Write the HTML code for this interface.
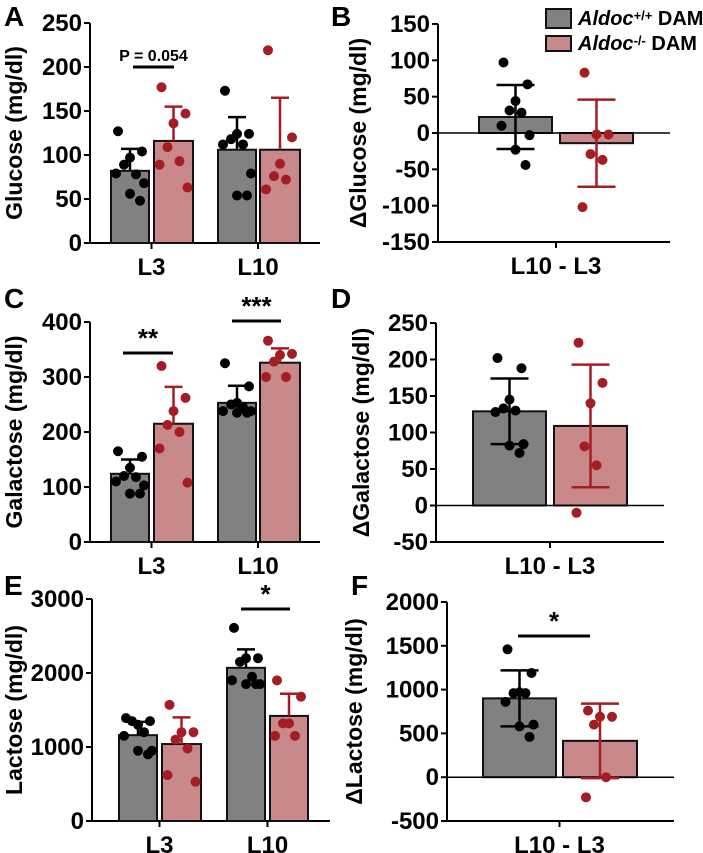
<!DOCTYPE html>
<html><head><meta charset="utf-8"><style>
body{margin:0;background:#fff}
svg{display:block;font-family:"Liberation Sans",Arial,sans-serif;font-weight:bold}
</style></head><body>
<svg id="fig" width="703" height="853" viewBox="0 0 703 853"></svg>
<script>
// ---- data ----
const groupCats = ["L3","L10"];
const diffCat = ["L10 - L3"];
// Panel A glucose
const aWtMean=[82,106], aWtSD=[25,37], aKoMean=[116,106], aKoSD=[39,59];
const aWtPts=[[127,104,97,89,78,79,68,56,48],[173,124,124,118,112,112,79,54,54]];
const aKoPts=[[177,147,136,109,93,89,63],[219,120,90,76,72,61]];
const aTicks=[0,50,100,150,200,250];
// Panel B delta glucose
const bMean=[22,-14], bSD=[44,60];
const bPts=[[97,67,44,31,28,10,-3,-23,-44],[83,-2,-2,-29,-37,-102]];
const bTicks=[-150,-100,-50,0,50,100,150];
// Panel C galactose
const cWtMean=[124,253], cWtSD=[26,31], cKoMean=[215,326], cKoSD=[67,26];
const cWtPts=[[165,155,135,120,118,110,103,88,88],[325,283,253,250,245,238,238,235,235]];
const cKoPts=[[320,262,238,213,200,170,108],[366,342,340,328,300,300]];
const cTicks=[0,100,200,300,400];
// Panel D delta galactose
const dMean=[129,109], dSD=[45,84];
const dPts=[[202,188,145,133,130,128,84,82,72],[223,168,140,81,55,-10]];
const dTicks=[-50,0,50,100,150,200,250];
// Panel E lactose
const eWtMean=[1160,2070], eWtSD=[180,250], eKoMean=[1040,1420], eKoSD=[360,300];
const eWtPts=[[1390,1350,1300,1350,1200,1150,950,950,900],[2610,2200,2200,2150,1950,1900,1850,1850,1850]];
const eKoPts=[[1570,1200,1200,1100,980,620,530],[1900,1680,1320,1320,1150,1150]];
const eTicks=[0,1000,2000,3000];
// Panel F delta lactose
const fMean=[900,415], fSD=[320,425];
const fPts=[[1460,1190,970,960,960,860,600,580,460],[760,690,690,600,0,-230]];
const fTicks=[-500,0,500,1000,1500,2000];

const NS="http://www.w3.org/2000/svg";
const svg=document.getElementById('fig');
const GRAY="#818181", PINK="#c98889", RED="#a51d24";
function mk(tag,attrs,parent,text){const e=document.createElementNS(NS,tag);for(const k in attrs)e.setAttribute(k,attrs[k]);if(text!==undefined)e.textContent=text;(parent||svg).appendChild(e);return e;}
function scale(d0,d1,p0,p1){return v=>p0+(v-d0)*(p1-p0)/(d1-d0);}
function dots(g,pts,cx,y,color,name){
  pts.forEach((v,i)=>{
    const pat=[-12,12,0,-6,6,-14,14,0,10];
    const c=mk('circle',{cx:cx+pat[i%pat.length],cy:y(v),r:5,fill:color},g);
    
    
  });
}
function yaxis(g,ax,y,ticks,top,bot,title,tx,letter,lx,ly){
  mk('line',{x1:ax,y1:top,x2:ax,y2:bot,stroke:'#000','stroke-width':2},g);
  ticks.forEach(t=>{
    mk('line',{x1:ax-6,y1:y(t),x2:ax,y2:y(t),stroke:'#000','stroke-width':2},g);
    const tl=mk('text',{x:ax-8,y:y(t)+8,'text-anchor':'end','font-size':24},g,String(t));
    
    
  });
  const yt=mk('text',{x:tx,y:(top+bot)/2,'text-anchor':'middle','font-size':23,transform:`rotate(-90 ${tx} ${(top+bot)/2})`},g,title);
  
  
  const pl=mk('text',{x:lx,y:ly,'font-size':28},g,letter);
  
  
}
function bar(g,x0,x1,y,mean,fill,name){
  const a=y(0),b=y(mean);
  const r=mk('rect',{x:x0,y:Math.min(a,b),width:x1-x0,height:Math.abs(a-b),fill:fill,stroke:'#111','stroke-width':2},g);
  
  
}
function err(g,cx,y,mean,sd,color,both,cw){
  const lo=both?mean-sd:mean;
  mk('line',{x1:cx,y1:y(lo),x2:cx,y2:y(mean+sd),stroke:color,'stroke-width':2.5},g);
  mk('line',{x1:cx-cw,y1:y(mean+sd),x2:cx+cw,y2:y(mean+sd),stroke:color,'stroke-width':2.5},g);
  if(both)mk('line',{x1:cx-cw,y1:y(mean-sd),x2:cx+cw,y2:y(mean-sd),stroke:color,'stroke-width':2.5},g);
}
function sig(g,x0,x1,yy,label,fs){
  mk('line',{x1:x0,y1:yy,x2:x1,y2:yy,stroke:'#000','stroke-width':3},g);
  const s=mk('text',{x:(x0+x1)/2,y:yy-6,'text-anchor':'middle','font-size':fs},g,label);
  
  
}
function groupPanel(name,cfg,wm,ws,km,ks,wp,kp,ticks){
  const g=mk('g',{});
  
  
  const y=scale(ticks[0],ticks[ticks.length-1],cfg.bot,cfg.top);
  yaxis(g,cfg.ax,y,ticks,cfg.top,cfg.bot,cfg.title,22,cfg.letter,4,cfg.ly);
  mk('line',{x1:cfg.ax,y1:cfg.bot,x2:cfg.axEnd,y2:cfg.bot,stroke:'#000','stroke-width':2},g);
  groupCats.forEach((c,i)=>{
    const [w0,w1,k0,k1]=cfg.bars[i];
    bar(g,w0,w1,y,wm[i],GRAY,'bar-wt-'+c);
    bar(g,k0,k1,y,km[i],PINK,'bar-ko-'+c);
    const wc=(w0+w1)/2,kc=(k0+k1)/2;
    err(g,wc,y,wm[i],ws[i],'#000',false,9);
    err(g,kc,y,km[i],ks[i],RED,false,9);
    dots(g,wp[i],wc,y,'#000','point-wt');
    dots(g,kp[i],kc,y,RED,'point-ko');
    const tk=(w1+k0)/2;
    mk('line',{x1:tk,y1:cfg.bot,x2:tk,y2:cfg.bot+6,stroke:'#000','stroke-width':2},g);
    const l=mk('text',{x:tk,y:cfg.bot+32,'text-anchor':'middle','font-size':24},g,c);
    
    
  });
  return {g,y};
}
function diffPanel(name,cfg,mean,sd,pts,ticks){
  const g=mk('g',{});
  
  
  const y=scale(ticks[0],ticks[ticks.length-1],cfg.bot,cfg.top);
  yaxis(g,cfg.ax,y,ticks,cfg.top,cfg.bot,cfg.title,cfg.tx,cfg.letter,cfg.lx,cfg.ly);
  mk('line',{x1:cfg.ax,y1:cfg.bot,x2:cfg.axEnd,y2:cfg.bot,stroke:'#000','stroke-width':2},g);
  const [w0,w1,k0,k1]=cfg.bars;
  bar(g,w0,w1,y,mean[0],GRAY,'bar-wt');
  bar(g,k0,k1,y,mean[1],PINK,'bar-ko');
  mk('line',{x1:cfg.ax,y1:y(0),x2:cfg.axEnd,y2:y(0),stroke:'#000','stroke-width':1.5},g);
  const wc=(w0+w1)/2,kc=(k0+k1)/2;
  err(g,wc,y,mean[0],sd[0],'#000',true,19);
  err(g,kc,y,mean[1],sd[1],RED,true,19);
  dots(g,pts[0],wc,y,'#000','point-wt');
  dots(g,pts[1],kc,y,RED,'point-ko');
  const tk=(w1+k0)/2;
  mk('line',{x1:tk,y1:cfg.bot,x2:tk,y2:cfg.bot+6,stroke:'#000','stroke-width':2},g);
  const l=mk('text',{x:tk,y:cfg.bot+32,'text-anchor':'middle','font-size':24},g,diffCat[0]);
  
  
  return {g,y};
}
const A=groupPanel('panel-a',{ax:90,top:23,bot:243,axEnd:320,title:'Glucose (mg/dl)',letter:'A',ly:26,
  bars:[[111,149,154,193],[218,256,260,300]]},aWtMean,aWtSD,aKoMean,aKoSD,aWtPts,aKoPts,aTicks);
sig(A.g,133,174,A.y(200),'P = 0.054',16);
diffPanel('panel-b',{ax:438,top:24,bot:242,axEnd:670,title:'\u0394Glucose (mg/dl)',tx:366,letter:'B',lx:331,ly:26,
  bars:[479,552,560,633]},bMean,bSD,bPts,bTicks);
const C=groupPanel('panel-c',{ax:90,top:322,bot:542,axEnd:320,title:'Galactose (mg/dl)',letter:'C',ly:308,
  bars:[[111,149,154,193],[218,256,260,300]]},cWtMean,cWtSD,cKoMean,cKoSD,cWtPts,cKoPts,cTicks);
sig(C.g,123,173,353,'**',26);
sig(C.g,232,281,321,'***',26);
diffPanel('panel-d',{ax:436,top:323,bot:542,axEnd:664,title:'\u0394Galactose (mg/dl)',tx:369,letter:'D',lx:331,ly:308,
  bars:[473,546,554,627]},dMean,dSD,dPts,dTicks);
const E=groupPanel('panel-e',{ax:92,top:599,bot:821,axEnd:330,title:'Lactose (mg/dl)',letter:'E',ly:595,
  bars:[[119,157,162,201],[227,265,270,308]]},eWtMean,eWtSD,eKoMean,eKoSD,eWtPts,eKoPts,eTicks);
sig(E.g,241,290,609,'*',26);
const F=diffPanel('panel-f',{ax:447,top:602,bot:821,axEnd:674,title:'\u0394Lactose (mg/dl)',tx:362,letter:'F',lx:351,ly:595,
  bars:[483,556,563,637]},fMean,fSD,fPts,fTicks);
sig(F.g,518,590,636,'*',26);
</script>
<div style="position:absolute;left:545px;top:6px;font:bold 20px 'Liberation Sans',Arial,sans-serif;line-height:24px">
  <div style="display:flex;align-items:center;height:25px"><span style="display:inline-block;width:23px;height:17px;background:#818181;border:2px solid #111;margin-right:6px"></span><i>Aldoc</i><sup style="font-size:13px;position:relative;top:-3px">+/+</sup>&nbsp;DAM</div>
  <div style="display:flex;align-items:center;height:25px"><span style="display:inline-block;width:23px;height:13px;background:#c98889;border:2px solid #111;margin-right:6px"></span><i>Aldoc</i><sup style="font-size:13px;position:relative;top:-3px">-/-</sup>&nbsp;DAM</div>
</div>
</body></html>
